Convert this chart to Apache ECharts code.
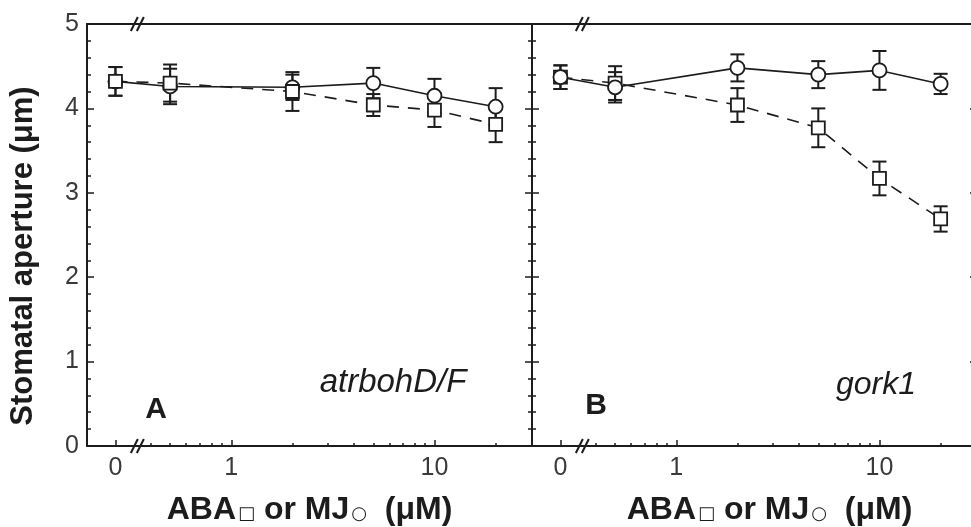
<!DOCTYPE html>
<html>
<head>
<meta charset="utf-8">
<script src="https://cdn.jsdelivr.net/npm/echarts@6/dist/echarts.min.js"></script>
<style>
  html, body { margin: 0; padding: 0; background: #fff; }
  #chart { width: 971px; height: 527px; }
</style>
</head>
<body>
<div id="chart"></div>
<script>
// Concentrations (µM); 0 sits on its own short segment left of the axis break
const concentrations = [0, 0.5, 2, 5, 10, 20];

// Panel A — atrbohD/F
const abaA    = [4.32, 4.30, 4.20, 4.04, 3.98, 3.81];
const abaAErr = [0.17, 0.22, 0.23, 0.13, 0.20, 0.21];
const mjA     = [4.32, 4.26, 4.25, 4.30, 4.15, 4.02];
const mjAErr  = [0.17, 0.21, 0.15, 0.18, 0.20, 0.22];

// Panel B — gork1
const abaB    = [4.37, 4.30, 4.04, 3.77, 3.17, 2.69];
const abaBErr = [0.14, 0.20, 0.20, 0.23, 0.20, 0.15];
const mjB     = [4.37, 4.25, 4.48, 4.40, 4.45, 4.29];
const mjBErr  = [0.14, 0.18, 0.16, 0.16, 0.23, 0.12];

// Axis ticks and labels
const xLabelConc  = [0, 1, 10];
const xLabelText  = ['0', '1', '10'];
const xMinorConc  = [0, 0.4, 0.5, 0.6, 0.7, 0.8, 0.9, 2, 3, 4, 5, 6, 7, 8, 9, 20];
const yMin = 0, yMax = 5, yStep = 1;

// Concentration axis: log10 scale, with 0 placed in a slot before the break
const X_MIN = -0.71, X_MAX = 1.48;
const ZERO_SLOT = -0.57;
const BREAK_AT = -0.45;
const toAxis = c => (c === 0 ? ZERO_SLOT : Math.log10(c));

const INK = '#1c1c1c';
const FONT = 'Liberation Sans, Arial, sans-serif';

const chart = echarts.init(document.getElementById('chart'), null, { renderer: 'canvas' });

const labelPos = xLabelConc.map(toAxis);
const minorPos = xMinorConc.map(toAxis);

function xAxesFor(gridIndex, nameShift) {
  const base = { gridIndex, type: 'value', min: X_MIN, max: X_MAX, splitLine: { show: false } };
  return [
    Object.assign({}, base, {
      position: 'bottom',
      axisLine: { show: true, onZero: false, lineStyle: { color: INK, width: 2 } },
      axisTick: { show: true, inside: true, length: 6, customValues: labelPos, lineStyle: { color: INK, width: 1.5 } },
      axisLabel: {
        show: true, customValues: labelPos, margin: 10,
        color: '#3a3a3a', fontSize: 25, fontFamily: FONT,
        formatter: v => {
          const i = labelPos.findIndex(p => Math.abs(p - v) < 1e-6);
          return i >= 0 ? xLabelText[i] : '';
        }
      },
      name: 'ABA{s|□} or MJ{c|○}  (μM)',
      nameLocation: 'middle',
      nameGap: 48,
      nameTextStyle: {
        fontSize: 32, fontWeight: 'bold', color: INK, fontFamily: FONT,
        padding: [0, 0, 0, nameShift],
        rich: {
          s: { fontSize: 18, fontFamily: 'DejaVu Sans', color: INK, padding: [9, 0, 0, 2] },
          c: { fontSize: 18, fontFamily: 'DejaVu Sans', color: INK, padding: [9, 0, 0, 2] }
        }
      }
    }),
    Object.assign({}, base, {
      position: 'bottom',
      axisLine: { show: false, onZero: false },
      axisTick: { show: true, inside: true, length: 3, customValues: minorPos, lineStyle: { color: INK, width: 1.5 } },
      axisLabel: { show: false }
    }),
    Object.assign({}, base, {
      position: 'top',
      axisLine: { show: true, onZero: false, lineStyle: { color: INK, width: 2 } },
      axisTick: { show: false },
      axisLabel: { show: false }
    })
  ];
}

function yAxis(gridIndex, position, withLabels) {
  const ax = {
    gridIndex, type: 'value', position, min: yMin, max: yMax, interval: yStep,
    splitLine: { show: false },
    axisLine: { show: true, onZero: false, lineStyle: { color: INK, width: 2 } },
    axisTick: { show: true, inside: true, length: 7, lineStyle: { color: INK, width: 1.5 } },
    minorTick: { show: true, splitNumber: 5, length: 4, lineStyle: { color: INK, width: 1.5 } },
    axisLabel: { show: withLabels, color: '#3a3a3a', fontSize: 25, fontFamily: FONT, margin: 8 }
  };
  if (withLabels) {
    Object.assign(ax, {
      name: 'Stomatal aperture (μm)',
      nameLocation: 'middle',
      nameGap: 48,
      nameRotate: 90,
      nameTextStyle: { fontSize: 31, fontWeight: 'bold', color: INK, fontFamily: FONT, padding: [0, 42, 0, 0] }
    });
  }
  return ax;
}

function errorBars(xAxisIndex, yAxisIndex, values, errs, z) {
  return {
    type: 'custom', xAxisIndex, yAxisIndex, z, silent: true,
    data: concentrations.map((c, i) => [toAxis(c), values[i] - errs[i], values[i] + errs[i]]),
    renderItem(params, api) {
      const x = api.value(0);
      const lo = api.coord([x, api.value(1)]);
      const hi = api.coord([x, api.value(2)]);
      const hw = 7;
      const style = { stroke: INK, lineWidth: 2 };
      return {
        type: 'group',
        children: [
          { type: 'line', shape: { x1: lo[0], y1: lo[1], x2: hi[0], y2: hi[1] }, style },
          { type: 'line', shape: { x1: lo[0] - hw, y1: lo[1], x2: lo[0] + hw, y2: lo[1] }, style },
          { type: 'line', shape: { x1: hi[0] - hw, y1: hi[1], x2: hi[0] + hw, y2: hi[1] }, style }
        ]
      };
    }
  };
}

function mjLine(xAxisIndex, yAxisIndex, values, z) {
  return {
    type: 'line', xAxisIndex, yAxisIndex, z,
    data: concentrations.map((c, i) => [toAxis(c), values[i]]),
    symbol: 'circle', symbolSize: 14, showSymbol: true,
    itemStyle: { color: '#fff', borderColor: INK, borderWidth: 1.8 },
    lineStyle: { color: INK, width: 1.6, type: 'solid' },
    emphasis: { disabled: true }, animation: false
  };
}

function abaLine(xAxisIndex, yAxisIndex, values, z) {
  return {
    type: 'line', xAxisIndex, yAxisIndex, z,
    data: concentrations.map((c, i) => [toAxis(c), values[i]]),
    symbol: 'rect', symbolSize: 13, showSymbol: true,
    itemStyle: { color: '#fff', borderColor: INK, borderWidth: 1.8 },
    lineStyle: { color: INK, width: 1.6, type: [12, 9] },
    emphasis: { disabled: true }, animation: false
  };
}

const option = {
  backgroundColor: '#fff',
  animation: false,
  grid: [
    { left: 87, top: 24, width: 445, height: 422, outerBoundsMode: 'none' },
    { left: 532, top: 24, width: 445, height: 422, outerBoundsMode: 'none' }
  ],
  xAxis: [...xAxesFor(0, 0), ...xAxesFor(1, 30)],
  yAxis: [
    yAxis(0, 'left', true),
    yAxis(0, 'right', false),
    yAxis(1, 'left', false),
    yAxis(1, 'right', false)
  ],
  series: [
    // Panel A: squares drawn above circles
    errorBars(0, 0, mjA, mjAErr, 2),
    errorBars(0, 0, abaA, abaAErr, 2),
    mjLine(0, 0, mjA, 3),
    abaLine(0, 0, abaA, 4),
    // Panel B: circles drawn above squares
    errorBars(3, 2, abaB, abaBErr, 2),
    errorBars(3, 2, mjB, mjBErr, 2),
    abaLine(3, 2, abaB, 3),
    mjLine(3, 2, mjB, 4)
  ]
};

chart.setOption(option);

// Panel letters, genotype labels and "//" break marks on the concentration axes
function breakMark(x, y) {
  return {
    type: 'group', z: 10,
    children: [
      { type: 'rect', shape: { x: x - 6, y: y - 2, width: 12, height: 4 }, style: { fill: '#fff' } },
      { type: 'line', shape: { x1: x - 9, y1: y + 7, x2: x - 2, y2: y - 7 }, style: { stroke: INK, lineWidth: 2 } },
      { type: 'line', shape: { x1: x - 3, y1: y + 7, x2: x + 4, y2: y - 7 }, style: { stroke: INK, lineWidth: 2 } }
    ]
  };
}

const graphics = [];
[[0, 0], [3, 2]].forEach(([xi, yi]) => {
  const bx = chart.convertToPixel({ xAxisIndex: xi }, BREAK_AT);
  const yTop = chart.convertToPixel({ yAxisIndex: yi }, yMax);
  const yBot = chart.convertToPixel({ yAxisIndex: yi }, yMin);
  graphics.push(breakMark(bx, yTop), breakMark(bx, yBot));
});

const textStyle = (text, size, weight, fontStyle) => ({
  text, fill: INK, fontSize: size, fontWeight: weight, fontStyle,
  fontFamily: FONT, align: 'center', verticalAlign: 'middle'
});
graphics.push(
  { type: 'text', x: 156, y: 410, z: 10, style: textStyle('A', 30, 'bold', 'normal') },
  { type: 'text', x: 393, y: 383, z: 10, style: textStyle('atrbohD/F', 33, 'normal', 'italic') },
  { type: 'text', x: 596, y: 406, z: 10, style: textStyle('B', 30, 'bold', 'normal') },
  { type: 'text', x: 876, y: 385, z: 10, style: textStyle('gork1', 32, 'normal', 'italic') }
);

chart.setOption({ graphic: graphics });
</script>
</body>
</html>
